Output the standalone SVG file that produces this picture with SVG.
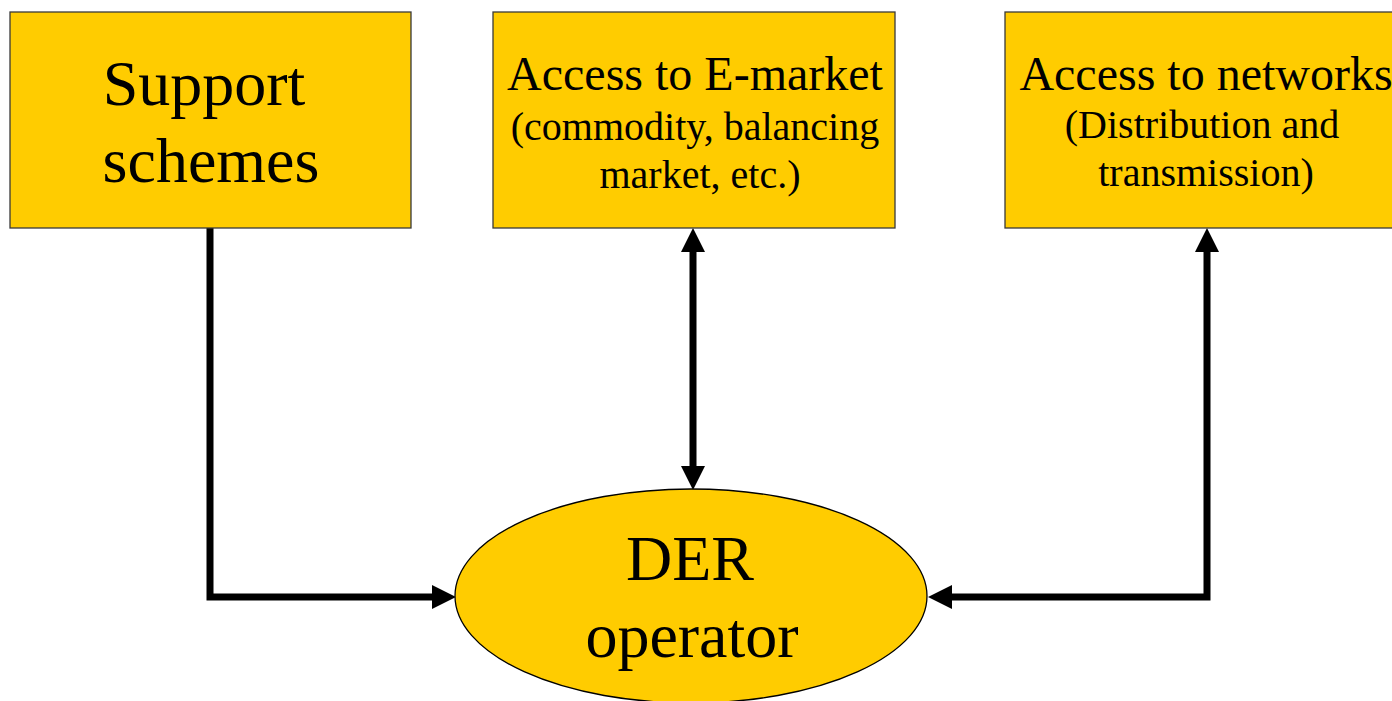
<svg xmlns="http://www.w3.org/2000/svg" width="1392" height="701" viewBox="0 0 1392 701">
<style>
.box{fill:#FFCC00;stroke:#3a3a3a;stroke-width:1.3}
.t{font-family:"Liberation Serif","Times New Roman",serif;fill:#000;text-anchor:middle}
.big{font-size:64px}
.mid{font-size:48px}
.sm{font-size:40px}
.con{fill:none;stroke:#000;stroke-width:7}
.ah{fill:#000}
</style>
<rect width="1392" height="701" fill="#fff"/>
<g id="connectors">
<polyline class="con" points="210,228 210,597 434,597"/>
<path class="ah" d="M456,597 L432,585 L432,609 Z"/>
<line class="con" x1="693" y1="250" x2="693" y2="467"/>
<path class="ah" d="M693,228 L681,252 L705,252 Z"/>
<path class="ah" d="M693,490 L681,466 L705,466 Z"/>
<polyline class="con" points="1207,250 1207,597 950,597"/>
<path class="ah" d="M1207,228 L1195,252 L1219,252 Z"/>
<path class="ah" d="M928,597 L952,585 L952,609 Z"/>
</g>
<g id="support">
<rect class="box" x="10" y="12" width="401" height="216"/>
<text class="t big" x="204" y="105">Support</text>
<text class="t big" x="211" y="182">schemes</text>
</g>
<g id="emarket">
<rect class="box" x="493" y="12" width="402" height="216"/>
<text class="t mid" x="695" y="90">Access to E-market</text>
<text class="t sm" x="695" y="140">(commodity, balancing</text>
<text class="t sm" x="700" y="188">market, etc.)</text>
</g>
<g id="networks">
<rect class="box" x="1005" y="12" width="400" height="216"/>
<text class="t mid" x="1206" y="90">Access to networks</text>
<text class="t sm" x="1202" y="138">(Distribution and</text>
<text class="t sm" x="1206" y="186">transmission)</text>
</g>
<g id="der">
<ellipse cx="691" cy="596" rx="236" ry="107" fill="#FFCC00" stroke="#000" stroke-width="1.3"/>
<text class="t big" x="690" y="580">DER</text>
<text class="t big" x="692" y="657">operator</text>
</g>
</svg>
